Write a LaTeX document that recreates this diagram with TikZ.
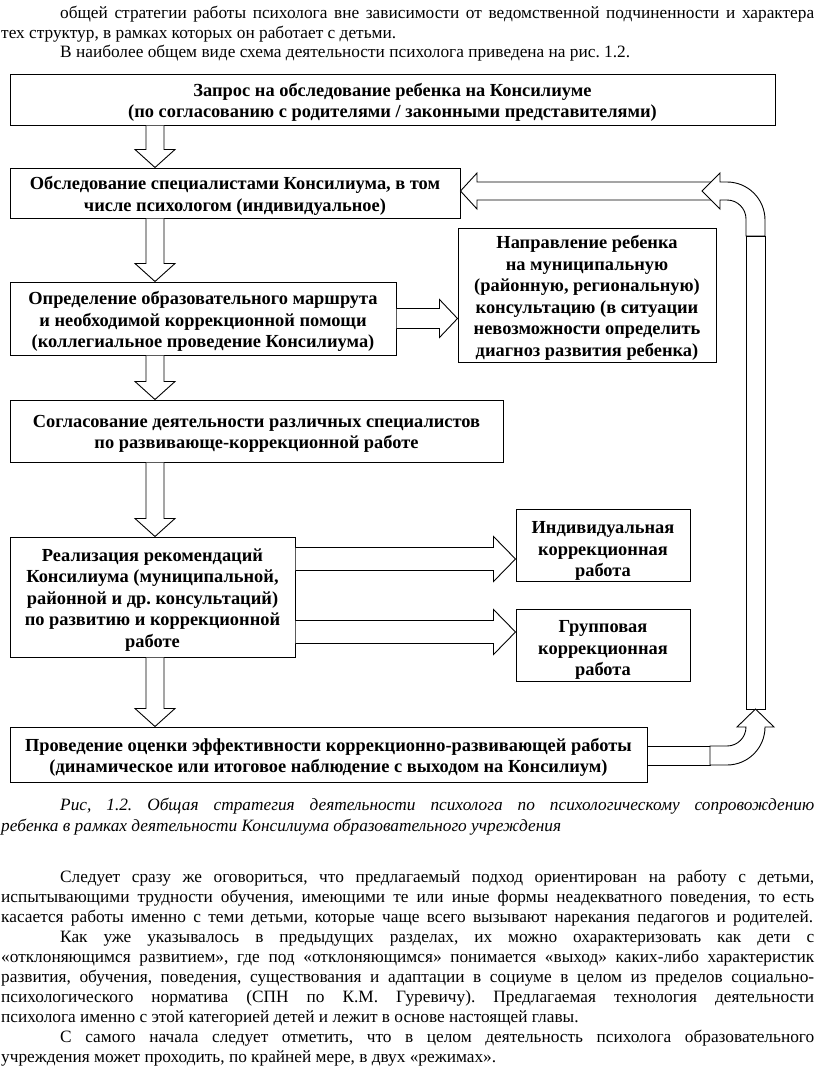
\documentclass[tikz,border=0pt]{standalone}
\usepackage{fontspec}
\setmainfont{Liberation Serif}
\usetikzlibrary{calc}
\newcommand{\boxfont}{\fontsize{18.4}{21.5}\selectfont\bfseries}
\newcommand{\bodyfont}{\fontsize{17.3}{20}\selectfont}
\tikzset{
  box/.style={draw=black, line width=1pt, fill=white, inner sep=0pt},
  btxt/.style={inner sep=0pt, align=center, font=\boxfont, yshift=-3pt},
  blk/.style={draw=black, line width=0.9pt, fill=white, line join=miter},
  bline/.style={anchor=base west, inner sep=0pt, font=\bodyfont},
  cline/.style={anchor=base west, inner sep=0pt, font=\bodyfont\itshape},
}
\newcommand{\vblk}[2]{%
  \draw[blk] let \p1=#1, \p2=#2 in
    (\x1-9,\y1) -- (\x1-9,\y2+18) -- (\x1-20,\y2+18) -- (\x1,\y2) --
    (\x1+20,\y2+18) -- (\x1+9,\y2+18) -- (\x1+9,\y1);}
% start, end, shaft half, head half, head length
\newcommand{\hblk}[5]{%
  \draw[blk] let \p1=#1, \p2=#2 in
    (\x1,\y1+#3) -- (\x2-#5,\y1+#3) -- (\x2-#5,\y1+#4) -- (\x2,\y1) --
    (\x2-#5,\y1-#4) -- (\x2-#5,\y1-#3) -- (\x1,\y1-#3);}
\begin{document}
\frenchspacing
\begin{tikzpicture}[x=1pt,y=-1pt]
\useasboundingbox (0,0) rectangle (816,1069);
\fill[white] (0,0) rectangle (816,1069);

% top text
\node[bline] (t1) at (60,18) {\makebox[754pt][s]{общей стратегии работы психолога вне зависимости от ведомственной подчиненности и характера}};
\node[bline] (t2) at (1,38) {тех структур, в рамках которых он работает с детьми.};
\node[bline] (t3) at (60,57) {В наиболее общем виде схема деятельности психолога приведена на рис. 1.2.};

% boxes
\node[box, minimum width=765pt, minimum height=51pt] (b1) at (392.5,99.5) {};
\node[btxt] (b1t) at (b1.center)
  {Запрос на обследование ребенка на Консилиуме\\(по согласованию с родителями / законными представителями)};
\node[box, minimum width=450pt, minimum height=50pt] (b2) at (235,193) {};
\node[btxt] (b2t) at (b2.center)
  {Обследование специалистами Консилиума, в том\\числе психологом (индивидуальное)};
\node[box, minimum width=258pt, minimum height=134pt] (b3) at (587,295) {};
\node[btxt] (b3t) at (b3.center)
  {Направление ребенка\\на муниципальную\\(районную, региональную)\\консультацию (в ситуации\\невозможности определить\\диагноз развития ребенка)};
\node[box, minimum width=386pt, minimum height=73pt] (b4) at (203,318.5) {};
\node[btxt] (b4t) at (b4.center)
  {Определение образовательного маршрута\\и необходимой коррекционной помощи\\(коллегиальное проведение Консилиума)};
\node[box, minimum width=493pt, minimum height=62pt] (b5) at (256.5,431) {};
\node[btxt] (b5t) at (b5.center)
  {Согласование деятельности различных специалистов\\по развивающе-коррекционной работе};
\node[box, minimum width=285pt, minimum height=120pt] (b6) at (152.5,597) {};
\node[btxt] (b6t) at (b6.center)
  {Реализация рекомендаций\\Консилиума (муниципальной,\\районной и др. консультаций)\\по развитию и коррекционной\\работе};
\node[box, minimum width=174pt, minimum height=72pt] (b7) at (603,545) {};
\node[btxt] (b7t) at ([yshift=-3pt]b7.center)
  {Индивидуальная\\коррекционная\\работа};
\node[box, minimum width=174pt, minimum height=72pt] (b8) at (603,645) {};
\node[btxt] (b8t) at ([yshift=-2pt]b8.center)
  {Групповая\\коррекционная\\работа};
\node[box, minimum width=637pt, minimum height=55pt] (b9) at (328.5,754.5) {};
\node[btxt] (b9t) at (b9.center)
  {Проведение оценки эффективности коррекционно-развивающей работы\\(динамическое или итоговое наблюдение с выходом на Консилиум)};

% vertical block arrows
\coordinate (ax) at (155,0);
\vblk{(b1.south -| ax)}{(b2.north -| ax)}
\vblk{(b2.south -| ax)}{(b4.north -| ax)}
\vblk{(b4.south -| ax)}{(b5.north -| ax)}
\vblk{(b5.south -| ax)}{(b6.north -| ax)}
\vblk{(b6.south -| ax)}{(b9.north -| ax)}

% horizontal block arrows
\coordinate (r1) at (0,559);
\coordinate (r2) at (0,632);
\hblk{(b4.east)}{(b4.east -| b3.west)}{10}{19}{18}
\hblk{(b6.east |- r1)}{(b7.west |- r1)}{11.5}{22.5}{22}
\hblk{(b6.east |- r2)}{(b8.west |- r2)}{11.5}{22.5}{22}

% return arrow
\coordinate (ty) at (0,191);
\coordinate (tipA) at (b2.east |- ty);
\draw[blk] (tipA) -- (477,173) -- (477,182) -- (712,182) -- (712,200) -- (477,200) -- (477,209) -- cycle;
\draw[blk] (746,236) -- (746,219) arc[start angle=0,end angle=90,radius=19pt]
  -- (720,200) -- (720,209) -- (702,191) -- (720,173) -- (720,182) -- (727,182)
  arc[start angle=90,end angle=0,radius=38pt] -- (765,236) -- cycle;
\draw[blk] (746,236) rectangle (765,709);
\coordinate (by) at (0,746);
\draw[blk] (b9.east |- by) rectangle (710,765);
\draw[blk] (710,746) -- (727,746) arc[start angle=-90,end angle=0,radius=19pt]
  -- (737,727) -- (755.5,709) -- (774,727) -- (765,727)
  arc[start angle=0,end angle=-90,radius=38pt] -- (710,765) -- cycle;

% caption
\node[cline] (c1) at (60,810) {\makebox[754pt][s]{Рис, 1.2. Общая стратегия деятельности психолога по психологическому сопровождению}};
\node[cline] (c2) at (1,831) {ребенка в рамках деятельности Консилиума образовательного учреждения};

% body paragraphs
\node[bline] (p1) at (60,882) {\makebox[754pt][s]{Следует сразу же оговориться, что предлагаемый подход ориентирован на работу с детьми,}};
\node[bline] (p2) at (1,902) {\makebox[813pt][s]{испытывающими трудности обучения, имеющими те или иные формы неадекватного поведения, то есть}};
\node[bline] (p3) at (1,922) {\makebox[812pt][s]{касается работы именно с теми детьми, которые чаще всего вызывают нарекания педагогов и родителей.}};
\node[bline] (p4) at (60,942) {\makebox[754pt][s]{Как уже указывалось в предыдущих разделах, их можно охарактеризовать как дети с}};
\node[bline] (p5) at (1,962) {\makebox[813pt][s]{«отклоняющимся развитием», где под «отклоняющимся» понимается «выход» каких-либо характеристик}};
\node[bline] (p6) at (1,982) {\makebox[813pt][s]{развития, обучения, поведения, существования и адаптации в социуме в целом из пределов социально-}};
\node[bline] (p7) at (1,1002) {\makebox[813pt][s]{психологического норматива (СПН по К.М. Гуревичу). Предлагаемая технология деятельности}};
\node[bline] (p8) at (1,1022) {психолога именно с этой категорией детей и лежит в основе настоящей главы.};
\node[bline] (p9) at (60,1042) {\makebox[754pt][s]{С самого начала следует отметить, что в целом деятельность психолога образовательного}};
\node[bline] (p10) at (1,1062) {учреждения может проходить, по крайней мере, в двух «режимах».};
\end{tikzpicture}
\end{document}
